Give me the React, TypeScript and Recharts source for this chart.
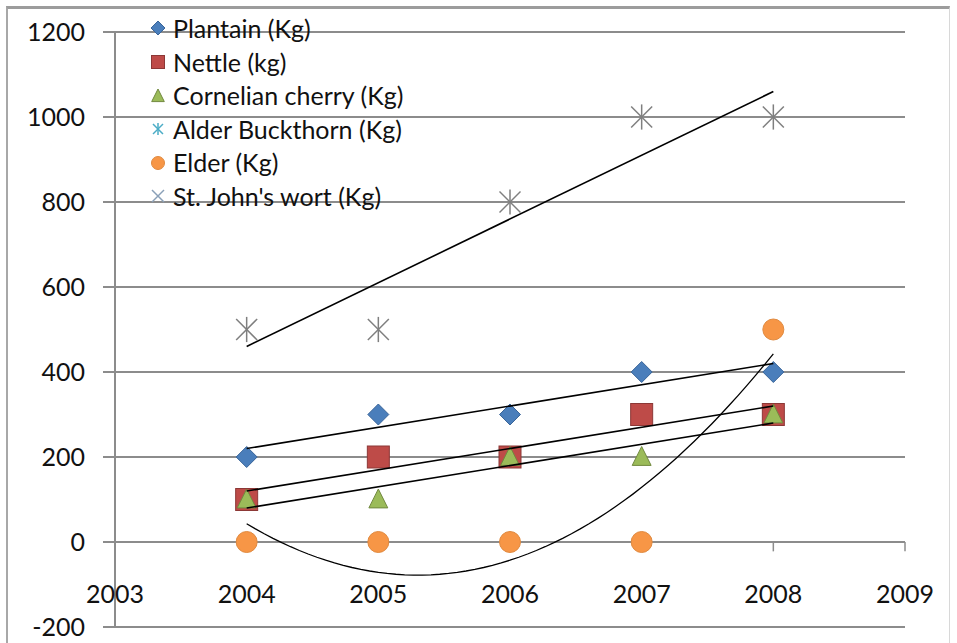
import React from 'react';
import { ScatterChart, Scatter, XAxis, YAxis, CartesianGrid, ReferenceLine } from 'recharts';

// Harvest quantities per year (kg)
const years = [2004, 2005, 2006, 2007, 2008];
const plantain = [200, 300, 300, 400, 400];
const nettle = [100, 200, 200, 300, 300];
const cornelianCherry = [100, 100, 200, 200, 300];
const alderBuckthorn: (number | null)[] = [null, null, null, null, null];
const elder = [0, 0, 0, 0, 500];
const stJohnsWort = [500, 500, 800, 1000, 1000];

const xTicks = [2003, 2004, 2005, 2006, 2007, 2008, 2009];
const yTicks = [-200, 0, 200, 400, 600, 800, 1000, 1200];

const FONT = 'Lato, "Open Sans", sans-serif';
const GRID = '#8c8c8c';

const COLORS = {
  plantain: '#4a7ebb',
  nettle: '#be4b48',
  cornelian: '#9bbb59',
  alder: '#4bacc6',
  elder: '#f79646',
  stJohns: '#7f7f7f',
};

type Pt = { x: number; y: number };

const toPoints = (vals: (number | null)[]): Pt[] =>
  years
    .map((yr, i) => ({ x: yr, y: vals[i] }))
    .filter((p): p is Pt => p.y !== null && p.y !== undefined);

// Least-squares polynomial fit (normal equations, x centred for stability)
function polyFit(pts: Pt[], degree: number) {
  const cx = pts.reduce((s, p) => s + p.x, 0) / pts.length;
  const n = degree + 1;
  const A: number[][] = Array.from({ length: n }, () => new Array(n + 1).fill(0));
  pts.forEach((p) => {
    const t = p.x - cx;
    for (let r = 0; r < n; r++) {
      for (let c = 0; c < n; c++) A[r][c] += Math.pow(t, r + c);
      A[r][n] += Math.pow(t, r) * p.y;
    }
  });
  for (let i = 0; i < n; i++) {
    let piv = i;
    for (let r = i + 1; r < n; r++) if (Math.abs(A[r][i]) > Math.abs(A[piv][i])) piv = r;
    [A[i], A[piv]] = [A[piv], A[i]];
    for (let r = 0; r < n; r++) {
      if (r === i) continue;
      const f = A[r][i] / A[i][i];
      for (let c = i; c <= n; c++) A[r][c] -= f * A[i][c];
    }
  }
  const coef = A.map((row, i) => row[n] / row[i]);
  return (x: number) => coef.reduce((s, c, k) => s + c * Math.pow(x - cx, k), 0);
}

const trendPoints = (pts: Pt[], degree: number, steps: number): Pt[] => {
  const f = polyFit(pts, degree);
  const x0 = pts[0].x;
  const x1 = pts[pts.length - 1].x;
  return Array.from({ length: steps + 1 }, (_, i) => {
    const x = x0 + ((x1 - x0) * i) / steps;
    return { x, y: f(x) };
  });
};

const plantainPts = toPoints(plantain);
const nettlePts = toPoints(nettle);
const cornelianPts = toPoints(cornelianCherry);
const alderPts = toPoints(alderBuckthorn);
const elderPts = toPoints(elder);
const stJohnsPts = toPoints(stJohnsWort);

// Marker shapes
const Diamond = ({ cx, cy, r = 10.5, fill = COLORS.plantain }: any) => (
  <polygon
    points={`${cx},${cy - r} ${cx + r},${cy} ${cx},${cy + r} ${cx - r},${cy}`}
    fill={fill}
    stroke="#3a6599"
    strokeWidth={1}
  />
);
const Square = ({ cx, cy, r = 11 }: any) => (
  <rect x={cx - r} y={cy - r} width={2 * r} height={2 * r} fill={COLORS.nettle} stroke="#8c3836" strokeWidth={1} />
);
const Triangle = ({ cx, cy, r = 10.5 }: any) => (
  <polygon
    points={`${cx},${cy - r} ${cx + r * 0.9},${cy + r * 0.8} ${cx - r * 0.9},${cy + r * 0.8}`}
    fill={COLORS.cornelian}
    stroke="#71893f"
    strokeWidth={1}
  />
);
const Dot = ({ cx, cy, r = 10.5 }: any) => <circle cx={cx} cy={cy} r={r} fill={COLORS.elder} stroke="#e08a40" strokeWidth={1} />;
const Cross = ({ cx, cy, r = 10, stroke = COLORS.stJohns }: any) => (
  <g stroke={stroke} strokeWidth={1.5}>
    <line x1={cx - r} y1={cy - r} x2={cx + r} y2={cy + r} />
    <line x1={cx - r} y1={cy + r} x2={cx + r} y2={cy - r} />
  </g>
);
const Asterisk = ({ cx, cy, r = 10.5, stroke = COLORS.stJohns }: any) => (
  <g stroke={stroke} strokeWidth={1.5}>
    <line x1={cx - r} y1={cy - r} x2={cx + r} y2={cy + r} />
    <line x1={cx - r} y1={cy + r} x2={cx + r} y2={cy - r} />
    <line x1={cx} y1={cy - r * 1.2} x2={cx} y2={cy + r * 1.2} />
  </g>
);
const NoMark = () => <g />;

const legendItems = [
  { label: 'Plantain (Kg)', icon: <Diamond cx={8} cy={8} r={7} /> },
  { label: 'Nettle (kg)', icon: <Square cx={8} cy={8} r={6.5} /> },
  { label: 'Cornelian cherry (Kg)', icon: <Triangle cx={8} cy={9} r={7} /> },
  { label: 'Alder Buckthorn (Kg)', icon: <Asterisk cx={8} cy={8} r={5} stroke={COLORS.alder} /> },
  { label: 'Elder (Kg)', icon: <Dot cx={8} cy={8} r={6.5} /> },
  { label: "St. John's wort (Kg)", icon: <Cross cx={8} cy={8} r={6} stroke="#8aa0b8" /> },
];

const XTick = ({ x, y, payload }: any) => (
  <text x={x} y={y - 34} textAnchor="middle" dominantBaseline="central" fontFamily={FONT} fontSize={25} fill="#111">
    {payload.value}
  </text>
);

const trendLine = { stroke: '#000', strokeWidth: 1.6 };

export default function App() {
  return (
    <div style={{ position: 'absolute', left: 0, top: 0, width: 957, height: 643, overflow: 'hidden', background: '#fff', fontFamily: FONT }}>
      <div
        style={{
          position: 'absolute',
          left: 6,
          top: 6,
          width: 944,
          height: 700,
          borderTop: '3px solid #9c9c9c',
          borderLeft: '2px solid #a8a8a8',
          borderRight: '1px solid #d8d8d8',
          boxSizing: 'border-box',
        }}
      />
      <div style={{ position: 'absolute', left: 0, top: 0 }}>
        <ScatterChart width={957} height={643} margin={{ top: 32, right: 52, bottom: 0, left: 15 }}>
          <CartesianGrid vertical={false} stroke={GRID} strokeWidth={2} />
          <XAxis
            type="number"
            dataKey="x"
            domain={[2003, 2009]}
            ticks={xTicks}
            interval={0}
            axisLine={false}
            tickLine={false}
            tickSize={0}
            tickMargin={0}
            height={16}
            tick={<XTick />}
          />
          <YAxis
            type="number"
            dataKey="y"
            domain={[-200, 1200]}
            ticks={yTicks}
            interval={0}
            width={100}
            tickSize={12}
            tickMargin={18}
            axisLine={{ stroke: GRID, strokeWidth: 2 }}
            tickLine={{ stroke: GRID, strokeWidth: 2 }}
            tick={{ fill: '#111', fontSize: 25, fontFamily: FONT }}
          />
          <ReferenceLine y={0} stroke={GRID} strokeWidth={2} />
          {xTicks.slice(1).map((yr) => (
            <ReferenceLine
              key={yr}
              segment={[
                { x: yr, y: 0 },
                { x: yr, y: -22 },
              ]}
              stroke={GRID}
              strokeWidth={1.5}
            />
          ))}

          <Scatter name="Plantain (Kg)" data={plantainPts} shape={<Diamond />} isAnimationActive={false} />
          <Scatter name="Nettle (kg)" data={nettlePts} shape={<Square />} isAnimationActive={false} />
          <Scatter name="Cornelian cherry (Kg)" data={cornelianPts} shape={<Triangle />} isAnimationActive={false} />
          <Scatter name="Alder Buckthorn (Kg)" data={alderPts} shape={<Asterisk stroke={COLORS.alder} />} isAnimationActive={false} />
          <Scatter name="Elder (Kg)" data={elderPts} shape={<Dot />} isAnimationActive={false} />
          <Scatter name="St. John's wort (Kg)" data={stJohnsPts} shape={<Asterisk />} isAnimationActive={false} />

          {/* Trendlines: linear fits, second-order polynomial for Elder */}
          <Scatter data={trendPoints(plantainPts, 1, 1)} line={trendLine} shape={<NoMark />} legendType="none" isAnimationActive={false} />
          <Scatter data={trendPoints(nettlePts, 1, 1)} line={trendLine} shape={<NoMark />} legendType="none" isAnimationActive={false} />
          <Scatter data={trendPoints(cornelianPts, 1, 1)} line={trendLine} shape={<NoMark />} legendType="none" isAnimationActive={false} />
          <Scatter data={trendPoints(stJohnsPts, 1, 1)} line={trendLine} shape={<NoMark />} legendType="none" isAnimationActive={false} />
          <Scatter data={trendPoints(elderPts, 2, 60)} line={{ stroke: '#000', strokeWidth: 1.3 }} shape={<NoMark />} legendType="none" isAnimationActive={false} />
        </ScatterChart>
      </div>
      <div style={{ position: 'absolute', left: 150, top: 12 }}>
        {legendItems.map((it) => (
          <div key={it.label} style={{ display: 'flex', alignItems: 'center', height: 33.6 }}>
            <svg width={16} height={17} style={{ marginRight: 7, overflow: 'visible' }}>
              {it.icon}
            </svg>
            <span style={{ fontSize: 25, color: '#111', whiteSpace: 'nowrap', lineHeight: '33.6px' }}>{it.label}</span>
          </div>
        ))}
      </div>
    </div>
  );
}
